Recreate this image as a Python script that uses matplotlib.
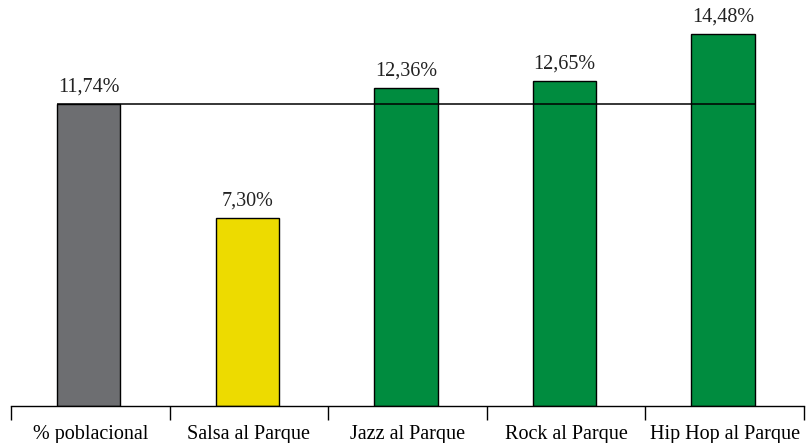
import matplotlib
matplotlib.use("Agg")
import matplotlib.pyplot as plt
import numpy as np

categories = ["% poblacional", "Salsa al Parque", "Jazz al Parque", "Rock al Parque", "Hip Hop al Parque"]
values = [11.74, 7.30, 12.36, 12.65, 14.48]
labels = ["11,74%", "7,30%", "12,36%", "12,65%", "14,48%"]
colors = ["#6D6E71", "#EDDB00", "#008C3F", "#008C3F", "#008C3F"]
reference = 11.74

plt.rcParams['font.family'] = ['Liberation Serif', 'DejaVu Serif']

fig = plt.figure(figsize=(8.07, 4.43), dpi=100)
ax = fig.add_axes([11/807, 37/443, (804-11)/807, 1 - 37/443])

x = np.arange(len(categories))
ax.bar(x - 0.01, values, width=0.4, color=colors, edgecolor="black", linewidth=1, zorder=2)
ax.hlines(reference, -0.21, 4.19, color="black", linewidth=1.1, zorder=3)

for xi, v, lab in zip(x, values, labels):
    ax.text(xi - 0.01, v + 0.3, lab, ha="center", va="bottom", fontsize=14.5, color="#222222")

ax.set_xlim(-0.5, 4.5)
ax.set_ylim(0, 15.8)
ax.set_yticks([])
for s in ["top", "right", "left"]:
    ax.spines[s].set_visible(False)
ax.spines["bottom"].set_linewidth(1)

ax.set_xticks(x)
ax.set_xticklabels(categories, fontsize=14.5)
ax.tick_params(axis="x", which="major", length=0, pad=14)
ax.set_xticks(np.arange(-0.5, 5.0, 1.0), minor=True)
ax.tick_params(axis="x", which="minor", length=10, width=1, direction="out")

fig.savefig("out.png", dpi=100)
